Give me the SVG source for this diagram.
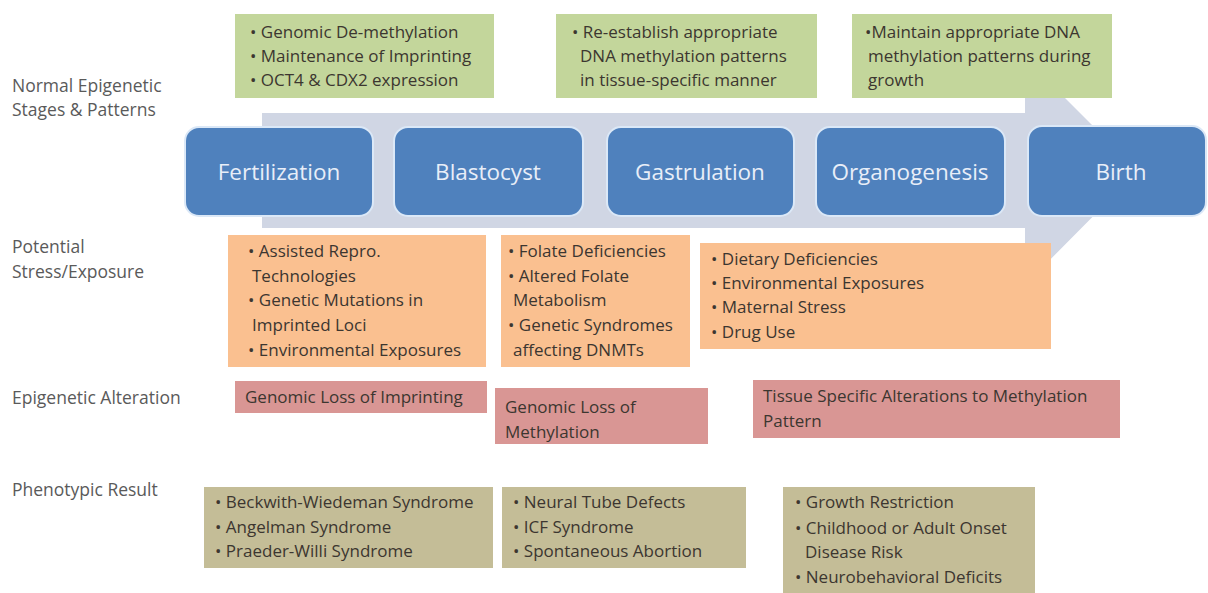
<svg xmlns="http://www.w3.org/2000/svg" width="1208" height="593" viewBox="0 0 1208 593">
<style>
text{font-family:"Open Sans","Liberation Sans",sans-serif}
.lbl{font-size:17.5px;fill:#5a5a5a}
.stage{fill:#4f81bd;stroke:#dbe8f7;stroke-width:2}
.st{font-size:22.5px;fill:#e8eef8;text-anchor:middle}
.green{fill:#c3d69b}
.orange{fill:#fac090}
.pink{fill:#d99694}
.olive{fill:#c4bd97}
.t{font-size:17px;fill:#3c3630}
</style>
<rect width="1208" height="593" fill="#ffffff"/>
<g id="connectors">
<polygon points="262,113 1025,113 1025,58 1138,171 1025,285 1025,228 262,228" fill="#d0d6e4"/>
</g>
<g id="row-labels">
<text class="lbl" x="12" y="92">Normal Epigenetic</text>
<text class="lbl" x="12" y="116">Stages &amp; Patterns</text>
<text class="lbl" x="12" y="253">Potential</text>
<text class="lbl" x="12" y="278">Stress/Exposure</text>
<text class="lbl" x="12" y="404">Epigenetic Alteration</text>
<text class="lbl" x="12" y="496">Phenotypic Result</text>
</g>
<g id="normal-1">
<rect class="green" x="235" y="14" width="259" height="84"/>
<text class="t" x="250" y="38">• Genomic De-methylation</text>
<text class="t" x="250" y="62">• Maintenance of Imprinting</text>
<text class="t" x="250" y="86">•  OCT4 &amp; CDX2 expression</text>
</g>
<g id="normal-2">
<rect class="green" x="556" y="14" width="261" height="84"/>
<text class="t" x="572" y="38">• Re-establish appropriate</text>
<text class="t" x="580" y="62">DNA methylation patterns</text>
<text class="t" x="580" y="86">in tissue-specific  manner</text>
</g>
<g id="normal-3">
<rect class="green" x="852" y="14" width="260" height="84"/>
<text class="t" x="865" y="38">•Maintain appropriate DNA</text>
<text class="t" x="868" y="62">methylation patterns during</text>
<text class="t" x="868" y="86">growth</text>
</g>
<g id="stage-fertilization">
<rect class="stage" x="185" y="127" width="188" height="89" rx="14"/>
<text class="st" x="279" y="180">Fertilization</text>
</g>
<g id="stage-blastocyst">
<rect class="stage" x="394" y="127" width="189" height="89" rx="14"/>
<text class="st" x="488" y="180">Blastocyst</text>
</g>
<g id="stage-gastrulation">
<rect class="stage" x="607" y="127" width="187" height="89" rx="14"/>
<text class="st" x="700" y="180">Gastrulation</text>
</g>
<g id="stage-organogenesis">
<rect class="stage" x="816" y="127" width="189" height="89" rx="14"/>
<text class="st" x="910" y="180">Organogenesis</text>
</g>
<g id="stage-birth">
<rect class="stage" x="1028" y="126" width="178" height="90" rx="14"/>
<text class="st" x="1121" y="180">Birth</text>
</g>
<g id="stress-1">
<rect class="orange" x="228" y="235" width="258" height="132"/>
<text class="t" x="248" y="257">• Assisted Repro.</text>
<text class="t" x="252" y="282">Technologies</text>
<text class="t" x="248" y="306">• Genetic Mutations in</text>
<text class="t" x="252" y="331">Imprinted Loci</text>
<text class="t" x="248" y="356">•  Environmental Exposures</text>
</g>
<g id="stress-2">
<rect class="orange" x="501" y="235" width="189" height="132"/>
<text class="t" x="508" y="257">• Folate Deficiencies</text>
<text class="t" x="508" y="282">• Altered Folate</text>
<text class="t" x="513" y="306">Metabolism</text>
<text class="t" x="508" y="331">• Genetic Syndromes</text>
<text class="t" x="513" y="356">affecting DNMTs</text>
</g>
<g id="stress-3">
<rect class="orange" x="700" y="243" width="351" height="106"/>
<text class="t" x="711" y="265">• Dietary Deficiencies</text>
<text class="t" x="711" y="289">• Environmental Exposures</text>
<text class="t" x="711" y="313">• Maternal Stress</text>
<text class="t" x="711" y="338">• Drug Use</text>
</g>
<g id="alteration-1">
<rect class="pink" x="235" y="381" width="252" height="32"/>
<text class="t" x="245" y="403">Genomic Loss of Imprinting</text>
</g>
<g id="alteration-2">
<rect class="pink" x="495" y="388" width="213" height="56"/>
<text class="t" x="505" y="413">Genomic Loss of</text>
<text class="t" x="505" y="438">Methylation</text>
</g>
<g id="alteration-3">
<rect class="pink" x="753" y="380" width="367" height="58"/>
<text class="t" x="763" y="402">Tissue Specific Alterations to Methylation</text>
<text class="t" x="763" y="427">Pattern</text>
</g>
<g id="result-1">
<rect class="olive" x="204" y="487" width="289" height="81"/>
<text class="t" x="215" y="508">•  Beckwith-Wiedeman  Syndrome</text>
<text class="t" x="215" y="533">• Angelman Syndrome</text>
<text class="t" x="215" y="557">• Praeder-Willi Syndrome</text>
</g>
<g id="result-2">
<rect class="olive" x="502" y="487" width="244" height="81"/>
<text class="t" x="513" y="508">•  Neural Tube Defects</text>
<text class="t" x="513" y="533">•  ICF Syndrome</text>
<text class="t" x="513" y="557">•  Spontaneous  Abortion</text>
</g>
<g id="result-3">
<rect class="olive" x="783" y="487" width="252" height="106"/>
<text class="t" x="795" y="508">• Growth Restriction</text>
<text class="t" x="795" y="534">• Childhood or Adult Onset</text>
<text class="t" x="805" y="558">Disease Risk</text>
<text class="t" x="795" y="583">• Neurobehavioral Deficits</text>
</g>
</svg>
